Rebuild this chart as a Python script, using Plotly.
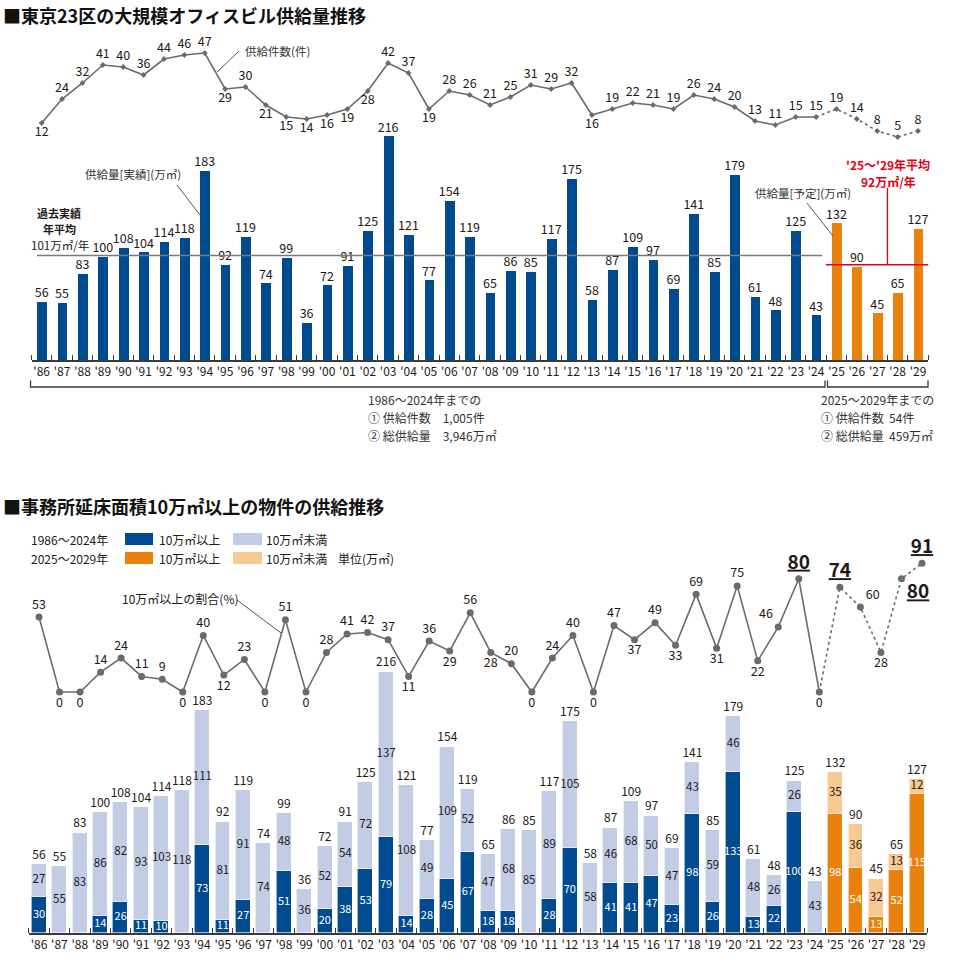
import plotly.graph_objects as go

# ---------------- data ----------------
years = list(range(1986, 2030))
tick_labels = ["'" + str(y)[2:] for y in years]

supply_count = [12, 24, 32, 41, 40, 36, 44, 46, 47, 29, 30, 21, 15, 14, 16, 19, 28, 42, 37, 19,
                28, 26, 21, 25, 31, 29, 32, 16, 19, 22, 21, 19, 26, 24, 20, 13, 11, 15, 15,
                19, 14, 8, 5, 8]
supply_area = [56, 55, 83, 100, 108, 104, 114, 118, 183, 92, 119, 74, 99, 36, 72, 91, 125, 216, 121, 77,
               154, 119, 65, 86, 85, 117, 175, 58, 87, 109, 97, 69, 141, 85, 179, 61, 48, 125, 43,
               132, 90, 45, 65, 127]
large_area = [30, 0, 0, 14, 26, 11, 10, 0, 73, 11, 27, 0, 51, 0, 20, 38, 53, 79, 14, 28,
              45, 67, 18, 18, 0, 28, 70, 0, 41, 41, 47, 23, 98, 26, 133, 13, 22, 100, 0,
              98, 54, 13, 52, 115]
small_area = [27, 55, 83, 86, 82, 93, 103, 118, 111, 81, 91, 74, 48, 36, 52, 54, 72, 137, 108, 49,
              109, 52, 47, 68, 85, 89, 105, 58, 46, 68, 50, 47, 43, 59, 46, 48, 26, 26, 43,
              35, 36, 32, 13, 12]
large_ratio = [53, 0, 0, 14, 24, 11, 9, 0, 40, 12, 23, 0, 51, 0, 28, 41, 42, 37, 11, 36,
               29, 56, 28, 20, 0, 24, 40, 0, 47, 37, 49, 33, 69, 31, 75, 22, 46, 80, 0,
               74, 60, 28, 80, 91]

count_label_pos = (["bottom center"] + ["top center"] * 8 + ["bottom center", "top center"]
                   + ["bottom center"] * 6 + ["top center", "top center", "bottom center"]
                   + ["top center"] * 7 + ["bottom center"] + ["top center"] * 16)
ratio_label_pos = ["top center", "bottom center", "bottom center", "top center", "top center",
                   "top center", "top center", "bottom center", "top center", "bottom center",
                   "top center", "bottom center", "top center", "bottom center", "top center",
                   "top center", "top center", "top center", "bottom center", "top center",
                   "bottom center", "top center", "bottom center", "top center", "bottom center",
                   "top center", "top center", "bottom center", "top center", "bottom center",
                   "top center", "bottom center", "top center", "bottom center", "top center",
                   "bottom center", "top left", "top center", "bottom center", "top center",
                   "top right", "bottom center", "bottom right", "top center"]
ratio_highlight = [2023, 2025, 2028, 2029]

avg_past = 101
avg_future = 92
forecast_start = 2025

summary_past = ["1986～2024年までの", "① 供給件数　1,005件", "② 総供給量　3,946万㎡"]
summary_future = ["2025～2029年までの", "① 供給件数  54件", "② 総供給量  459万㎡"]

# ---------------- style ----------------
FONT = "Noto Sans CJK JP"
BLUE = "#004b8f"
LIGHT_BLUE = "#c2cce5"
ORANGE = "#e8820c"
LIGHT_ORANGE = "#f7ca94"
GRAY = "#6b6b6b"
TXT = "#231815"
RED = "#e60012"
W, H = 960, 968


def px(x):
    return x / W


def py(y):
    return 1 - y / H


TOP_BASE, TOP_K = 360.0, 1.035
BOT_BASE, BOT_K = 933.0, 1.21

is_fc = [y >= forecast_start for y in years]
n_past = sum(1 for f in is_fc if not f)

fig = go.Figure()

# ---------- top chart: bars ----------
fig.add_trace(go.Bar(x=years, y=supply_area, width=0.48,
                     marker=dict(color=[ORANGE if f else BLUE for f in is_fc], line=dict(width=0)),
                     xaxis="x", yaxis="y", hoverinfo="skip"))
fig.add_trace(go.Scatter(x=years, y=supply_area, mode="markers+text", text=[str(v) for v in supply_area],
                         marker=dict(size=1, opacity=0),
                         textposition="top center", textfont=dict(family=FONT, size=12.5, color=TXT),
                         xaxis="x", yaxis="y", cliponaxis=False, hoverinfo="skip"))

# ---------- top chart: count line ----------
fig.add_trace(go.Scatter(x=years[:n_past], y=supply_count[:n_past], mode="lines",
                         line=dict(color=GRAY, width=1.6), xaxis="x", yaxis="y2", hoverinfo="skip"))
fig.add_trace(go.Scatter(x=years[n_past - 1:], y=supply_count[n_past - 1:], mode="lines",
                         line=dict(color=GRAY, width=1.6, dash="dot"), xaxis="x", yaxis="y2",
                         hoverinfo="skip"))
fig.add_trace(go.Scatter(x=years, y=supply_count, mode="markers+text",
                         marker=dict(color=GRAY, size=4.5, symbol="diamond"),
                         text=[str(v) for v in supply_count], textposition=count_label_pos,
                         textfont=dict(family=FONT, size=12.5, color=TXT),
                         xaxis="x", yaxis="y2", cliponaxis=False, hoverinfo="skip"))

# ---------- bottom chart: stacked bars ----------
fig.add_trace(go.Bar(x=years, y=large_area, width=0.73,
                     marker=dict(color=[ORANGE if f else BLUE for f in is_fc],
                                 line=dict(width=0.6, color="white")),
                     xaxis="x2", yaxis="y3", hoverinfo="skip"))
fig.add_trace(go.Bar(x=years, y=small_area, width=0.73,
                     marker=dict(color=[LIGHT_ORANGE if f else LIGHT_BLUE for f in is_fc],
                                 line=dict(width=0.6, color="white")),
                     xaxis="x2", yaxis="y3", hoverinfo="skip"))
lx = [y for y, v in zip(years, large_area) if v > 0]
ly = [v / 2 for v in large_area if v > 0]
lt = [str(v) for v in large_area if v > 0]
fig.add_trace(go.Scatter(x=lx, y=ly, mode="text", text=lt, textposition="middle center",
                         textfont=dict(family=FONT, size=11, color="white"),
                         xaxis="x2", yaxis="y3", cliponaxis=False, hoverinfo="skip"))
fig.add_trace(go.Scatter(x=years, y=[l + s / 2 for l, s in zip(large_area, small_area)], mode="text",
                         text=[str(v) for v in small_area], textposition="middle center",
                         textfont=dict(family=FONT, size=11.5, color=TXT),
                         xaxis="x2", yaxis="y3", cliponaxis=False, hoverinfo="skip"))
fig.add_trace(go.Scatter(x=years, y=[l + s for l, s in zip(large_area, small_area)], mode="markers+text",
                         marker=dict(size=2, opacity=0),
                         text=[str(v) for v in supply_area], textposition="top center",
                         textfont=dict(family=FONT, size=12, color=TXT),
                         xaxis="x2", yaxis="y3", cliponaxis=False, hoverinfo="skip"))

# ---------- bottom chart: ratio line ----------
fig.add_trace(go.Scatter(x=years[:n_past], y=large_ratio[:n_past], mode="lines",
                         line=dict(color=GRAY, width=1.6), xaxis="x3", yaxis="y4", hoverinfo="skip"))
fig.add_trace(go.Scatter(x=years[n_past - 1:], y=large_ratio[n_past - 1:], mode="lines",
                         line=dict(color=GRAY, width=1.6, dash="dot"), xaxis="x3", yaxis="y4",
                         hoverinfo="skip"))
ratio_text = [("<b><u>%d</u></b>" % v) if y in ratio_highlight else str(v)
              for y, v in zip(years, large_ratio)]
ratio_size = [19 if y in ratio_highlight else 12.5 for y in years]
fig.add_trace(go.Scatter(x=years, y=large_ratio, mode="markers+text",
                         marker=dict(color=GRAY, size=7),
                         text=ratio_text, textposition=ratio_label_pos,
                         textfont=dict(family=FONT, size=ratio_size, color=TXT),
                         xaxis="x3", yaxis="y4", cliponaxis=False, hoverinfo="skip"))

# ---------- axes ----------
step_top = (918 - 41.7) / 43
step_bot = (917 - 39) / 43
step_line = (922 - 39) / 43
minor_ticks = dict(tickmode="array", tickvals=[y - 0.5 for y in years] + [2029.5],
                   ticks="inside", ticklen=5, tickwidth=1.2, tickcolor="#3a3a3a")

layout_axes = dict(
    xaxis=dict(domain=[px(41.7 - step_top / 2), px(918 + step_top / 2)], range=[1985.5, 2029.5],
               anchor="y", showgrid=False, zeroline=False, showline=True, linecolor="#3a3a3a",
               linewidth=1.5, tickmode="array", tickvals=years, ticktext=tick_labels, ticks="",
               tickfont=dict(family=FONT, size=12, color=TXT), minor=minor_ticks),
    xaxis2=dict(domain=[px(39 - step_bot / 2), px(917 + step_bot / 2)], range=[1985.5, 2029.5],
                anchor="y3", showgrid=False, zeroline=False, showline=True, linecolor="#3a3a3a",
                linewidth=1.5, tickmode="array", tickvals=years, ticktext=tick_labels, ticks="",
                tickfont=dict(family=FONT, size=12, color=TXT), minor=minor_ticks),
    xaxis3=dict(domain=[px(39 - step_line / 2), px(922 + step_line / 2)], range=[1985.5, 2029.5],
                anchor="y4", visible=False),
    yaxis=dict(domain=[py(TOP_BASE), py(128)], range=[0, (TOP_BASE - 128) / TOP_K], visible=False,
               anchor="x"),
    yaxis2=dict(domain=[py(150), py(40)], range=[(147 - 150) / 2.0, (147 - 40) / 2.0], visible=False,
                anchor="x"),
    yaxis3=dict(domain=[py(BOT_BASE), py(655)], range=[0, (BOT_BASE - 655) / BOT_K], visible=False,
                anchor="x2"),
    yaxis4=dict(domain=[py(705), py(550)], range=[(692 - 705) / 1.415, (692 - 550) / 1.415],
                visible=False, anchor="x3"),
)

# ---------- shapes ----------
shapes = []
shapes.append(dict(type="line", xref="x", yref="y", x0=1985.77, x1=2024.29, y0=avg_past, y1=avg_past,
                   line=dict(color="#7a7a7a", width=1.5)))
shapes.append(dict(type="line", xref="x", yref="y", x0=2024.48, x1=2029.54, y0=avg_future, y1=avg_future,
                   line=dict(color=RED, width=1.5)))
shapes.append(dict(type="line", xref="x", yref="y", x0=2027.5, x1=2027.5, y0=avg_future,
                   y1=(TOP_BASE - 188) / TOP_K, line=dict(color=RED, width=1.3)))


def bracket(x0, x1, ytop, ybot):
    return dict(type="path", xref="paper", yref="paper",
                path="M %f,%f L %f,%f L %f,%f L %f,%f" % (px(x0), py(ytop), px(x0), py(ybot),
                                                          px(x1), py(ybot), px(x1), py(ytop)),
                line=dict(color="#3a3a3a", width=1.3))


shapes.append(bracket(30.5, 825, 380.5, 387))
shapes.append(bracket(827.5, 928, 380.5, 387))


def leader(x0, y0, x1, y1):
    return dict(type="line", xref="paper", yref="paper", x0=px(x0), y0=py(y0), x1=px(x1), y1=py(y1),
                line=dict(color="#555555", width=1))


shapes.append(leader(239, 51, 217, 72))
shapes.append(leader(177, 185, 200, 215))
shapes.append(leader(807, 203, 833, 236))
shapes.append(leader(237, 600, 281, 633))

for (x0, x1, y0, y1, c) in [(125, 153, 533, 545, BLUE), (233, 262, 533, 545, LIGHT_BLUE),
                            (125, 153, 552, 564, ORANGE), (233, 262, 552, 564, LIGHT_ORANGE)]:
    shapes.append(dict(type="rect", xref="paper", yref="paper", x0=px(x0), x1=px(x1), y0=py(y1),
                       y1=py(y0), fillcolor=c, line=dict(width=0)))

# ---------- annotations ----------
ann = []


def text(x, y, s, size=12, color=TXT, anchor="left", bold=False):
    ann.append(dict(x=px(x), y=py(y), xref="paper", yref="paper", text=("<b>%s</b>" % s) if bold else s,
                    showarrow=False, xanchor=anchor, yanchor="middle", borderpad=0,
                    font=dict(family=FONT, size=size, color=color)))


text(2, 15, "■東京23区の大規模オフィスビル供給量推移", size=18, bold=True, color="#111")
text(2, 506, "■事務所延床面積10万㎡以上の物件の供給推移", size=18, bold=True, color="#111")
text(244, 51, "供給件数(件)", size=11.5, color="#333")
text(84, 174, "供給量[実績](万㎡)", size=11.5, color="#333")
text(754, 193, "供給量[予定](万㎡)", size=11.5, color="#333")
text(59, 213, "過去実績", size=11, bold=True, anchor="center")
text(59, 229, "年平均", size=11, bold=True, anchor="center")
text(60, 245, "101万㎡/年", size=11.5, anchor="center")
text(888, 165, "'25～'29年平均", size=12, color=RED, anchor="center", bold=True)
text(888, 181, "92万㎡/年", size=12, color=RED, anchor="center", bold=True)
for i, s in enumerate(summary_past):
    text(367, 400 + i * 17.5, s, size=12, color="#333")
for i, s in enumerate(summary_future):
    text(820, 400 + i * 17.5, s, size=12, color="#333")

text(30, 539, "1986～2024年", size=12)
text(158, 539, "10万㎡以上", size=12)
text(265, 539, "10万㎡未満", size=12)
text(30, 558, "2025～2029年", size=12)
text(158, 558, "10万㎡以上", size=12)
text(265, 558, "10万㎡未満", size=12)
text(337, 558, "単位(万㎡)", size=12)
text(121, 598, "10万㎡以上の割合(%)", size=12)

fig.update_layout(width=W, height=H, margin=dict(l=0, r=0, t=0, b=0), paper_bgcolor="white",
                  plot_bgcolor="rgba(0,0,0,0)", showlegend=False, barmode="stack", bargap=0,
                  font=dict(family=FONT, color=TXT), shapes=shapes, annotations=ann, **layout_axes)

fig.write_html("out.html", config={"displayModeBar": False},
               post_script="document.body.style.margin='0px';")
